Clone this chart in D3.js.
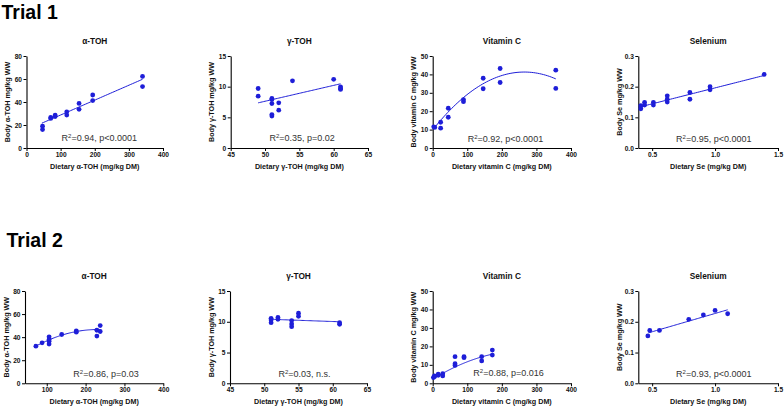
<!DOCTYPE html>
<html>
<head>
<meta charset="utf-8">
<script src="https://cdn.jsdelivr.net/npm/d3@7"></script>
<style>
  html, body { margin: 0; padding: 0; background: #fff; }
  svg { display: block; font-family: "Liberation Sans", Arial, sans-serif; }
</style>
</head>
<body>
<svg id="chart" width="784" height="407"></svg>
<script>
// ---------- DATA ----------
const trialLabels = ["Trial 1", "Trial 2"];
const panelTitles = ["α-TOH", "γ-TOH", "Vitamin C", "Selenium"];
const xAxisLabels = ["Dietary α-TOH (mg/kg DM)", "Dietary γ-TOH (mg/kg DM)", "Dietary vitamin C (mg/kg DM)", "Dietary Se (mg/kg DM)"];
const yAxisLabels = ["Body α-TOH mg/kg WW", "Body γ-TOH mg/kg WW", "Body vitamin C mg/kg WW", "Body Se mg/kg WW"];

// Trial 1
const t1AlphaX = [47, 47, 71, 71, 84, 84, 118, 118, 154, 154, 194, 194, 340, 340];
const t1AlphaY = [19, 16, 26.6, 25.7, 28.6, 27.4, 31.5, 28.6, 38.8, 33.6, 46.1, 41.2, 62.2, 53.4];
const t1GammaX = [49, 49, 51, 51, 51, 51, 51, 52, 52, 54, 60, 61, 61, 61];
const t1GammaY = [9.7, 8.45, 8.07, 7.9, 7.25, 5.45, 5.2, 7.36, 6.16, 10.96, 11.2, 9.98, 9.7, 9.55];
const t1VitCX = [3, 6, 23, 23, 45, 45, 89, 89, 146, 146, 195, 195, 356, 356];
const t1VitCY = [11.5, 11.2, 14, 10.8, 21.6, 16.7, 26.3, 25.2, 37.9, 32.2, 43.2, 35.6, 42.3, 32.4];
const t1SeX = [0.41, 0.41, 0.44, 0.44, 0.51, 0.51, 0.62, 0.62, 0.62, 0.80, 0.80, 0.96, 0.96, 1.39];
const t1SeY = [0.138, 0.128, 0.149, 0.140, 0.149, 0.140, 0.170, 0.159, 0.150, 0.181, 0.159, 0.200, 0.190, 0.240];

// Trial 2
const t2AlphaX = [72, 88, 106, 106, 106, 106, 138.5, 176, 176, 229, 229, 237.6, 237.6];
const t2AlphaY = [32.2, 35.1, 40.3, 38, 36.5, 34, 42.3, 45.5, 44.3, 46, 40.9, 50, 44.9];
const t2GammaX = [51, 51, 51, 52, 52, 54, 54, 54, 55, 55, 61, 61];
const t2GammaY = [10.56, 10.3, 9.86, 10.7, 10.4, 10.2, 9.64, 9.2, 11.4, 10.9, 9.86, 9.6];
const t2VitCX = [2, 5, 5, 16, 16, 29, 29, 64.6, 64.6, 64.6, 90.6, 90.6, 141.7, 141.7, 172.5, 172.5];
const t2VitCY = [3.1, 4, 3.5, 4.9, 4.3, 5.2, 4, 14.4, 10.6, 9.7, 14.4, 13.9, 14.4, 12.1, 18, 15.3];
const t2SeX = [0.466, 0.481, 0.558, 0.791, 0.907, 1.0, 1.1];
const t2SeY = [0.154, 0.172, 0.172, 0.208, 0.222, 0.237, 0.226];

// Fit coefficients [a, b, c] for y = a + b x + c x^2, and fit x-range
const fitCoefs = [
  [15.76, 0.1294, 0], [-5.33, 0.259, 0], [9.82, 0.2375, -4.482e-4], [0.092, 0.104, 0],
  [16.284, 0.26171, -5.646e-4], [12.44, -0.04, 0], [2.2, 0.11621, -2.1735e-4], [0.108, 0.119, 0]
];
const fitRanges = [
  [45, 340], [49, 61], [2, 356], [0.395, 1.394],
  [72, 238], [51, 61], [0, 172], [0.471, 1.1]
];
const notesMain = ["=0.94, p<0.0001", "=0.35, p=0.02", "=0.92, p<0.0001", "=0.95, p<0.0001",
                   "=0.86, p=0.03", "=0.03, n.s.", "=0.88, p=0.016", "=0.93, p<0.0001"];

// Axis domains & ticks
const xDomains = [[0, 400], [45, 65], [0, 400], [0.39, 1.5], [44, 400], [45, 65], [0, 400], [0.39, 1.5]];
const xTickVals = [[0, 100, 200, 300, 400], [45, 50, 55, 60, 65], [0, 100, 200, 300, 400], [0.5, 1.0, 1.5],
                   [100, 200, 300, 400], [45, 50, 55, 60, 65], [0, 100, 200, 300, 400], [0.5, 1.0, 1.5]];
const yDomains = [[0, 80], [0, 15], [0, 50], [0, 0.3], [0, 80], [0, 15], [0, 50], [0, 0.3]];
const yTickVals = [[0, 20, 40, 60, 80], [0, 5, 10, 15], [0, 10, 20, 30, 40, 50], [0, 0.1, 0.2, 0.3],
                   [0, 20, 40, 60, 80], [0, 5, 10, 15], [0, 10, 20, 30, 40, 50], [0, 0.1, 0.2, 0.3]];
const xTickFmt = [d3.format("d"), d3.format("d"), d3.format("d"), d3.format(".1f")];
const yTickFmt = [d3.format("d"), d3.format("d"), d3.format("d"), d3.format(".1f")];

const seriesX = [t1AlphaX, t1GammaX, t1VitCX, t1SeX, t2AlphaX, t2GammaX, t2VitCX, t2SeX];
const seriesY = [t1AlphaY, t1GammaY, t1VitCY, t1SeY, t2AlphaY, t2GammaY, t2VitCY, t2SeY];

// ---------- LAYOUT ----------
const colLeft = [[26.5, 163], [230.7, 368], [432.7, 571], [638.3, 778], [25, 163.3], [230, 367], [432.7, 571], [638.3, 778]];
const rowTopBottom = [[56, 148], [291, 383.3]];
const noteFrac = [0.533, 0.52, 0.526, 0.54, 0.586, 0.544, 0.548, 0.54];
const noteLift = [7, 7, 6, 6, 6, 6, 7, 6];
const trialPos = [[1.5, 18.5], [6.5, 247]];

const blue = "#1e1ed8";
const svg = d3.select("#chart");

trialLabels.forEach((t, i) => {
  svg.append("text").attr("x", trialPos[i][0]).attr("y", trialPos[i][1])
    .attr("font-size", 19.5).attr("font-weight", "bold").attr("fill", "#000").text(t);
});

for (let p = 0; p < 8; p++) {
  const col = p % 4, row = Math.floor(p / 4);
  const [x0, x1] = colLeft[p];
  const [yTop, yBot] = rowTopBottom[row];
  const x = d3.scaleLinear().domain(xDomains[p]).range([x0, x1]);
  const y = d3.scaleLinear().domain(yDomains[p]).range([yBot, yTop]);
  const g = svg.append("g");

  // axes
  const xAx = d3.axisBottom(x).tickValues(xTickVals[p]).tickFormat(xTickFmt[col]).tickSize(3).tickPadding(1.5).tickSizeOuter(0);
  const yAx = d3.axisLeft(y).tickValues(yTickVals[p]).tickFormat(yTickFmt[col]).tickSize(3).tickPadding(1.5).tickSizeOuter(0);
  const gx = g.append("g").attr("transform", `translate(0,${yBot})`).call(xAx);
  const gy = g.append("g").attr("transform", `translate(${x0},0)`).call(yAx);
  [gx, gy].forEach(a => {
    a.select(".domain").attr("stroke", "#000").attr("stroke-width", 1.1);
    a.selectAll(".tick line").attr("stroke", "#000").attr("stroke-width", 1);
    a.selectAll(".tick text").attr("font-size", 6.6).attr("font-weight", "bold").attr("fill", "#111")
      .attr("font-family", "'Liberation Sans', Arial, sans-serif");
  });

  // title
  g.append("text").attr("x", (x0 + x1) / 2).attr("y", yTop - 12)
    .attr("text-anchor", "middle").attr("font-size", 8.3).attr("font-weight", "bold").attr("fill", "#111")
    .text(panelTitles[col]);

  // x label
  g.append("text").attr("x", (x0 + x1) / 2).attr("y", yBot + 21)
    .attr("text-anchor", "middle").attr("font-size", 7.2).attr("font-weight", "bold").attr("fill", "#111")
    .text(xAxisLabels[col]);

  // y label
  g.append("text").attr("transform", `translate(${x0 - 16.5},${(yTop + yBot) / 2}) rotate(-90)`)
    .attr("text-anchor", "middle").attr("font-size", 7.2).attr("font-weight", "bold").attr("fill", "#111")
    .text(yAxisLabels[col]);

  // fit curve
  const [a, b, c] = fitCoefs[p];
  const fx = d3.range(fitRanges[p][0], fitRanges[p][1], (fitRanges[p][1] - fitRanges[p][0]) / 60).concat([fitRanges[p][1]]);
  g.append("path").datum(fx)
    .attr("d", d3.line().x(d => x(d)).y(d => y(a + b * d + c * d * d)))
    .attr("fill", "none").attr("stroke", blue).attr("stroke-width", 1);

  // points
  g.selectAll("circle").data(seriesX[p].map((v, i) => [v, seriesY[p][i]])).join("circle")
    .attr("cx", d => x(d[0])).attr("cy", d => y(d[1])).attr("r", 2.4).attr("fill", blue);

  // annotation
  const note = g.append("text").attr("x", x0 + (x1 - x0) * noteFrac[p]).attr("y", yBot - noteLift[p])
    .attr("text-anchor", "middle").attr("font-size", 9).attr("fill", "#333");
  note.append("tspan").text("R");
  note.append("tspan").attr("font-size", 6).attr("dy", -3.5).text("2");
  note.append("tspan").attr("dy", 3.5).text(notesMain[p]);
}
</script>
</body>
</html>
